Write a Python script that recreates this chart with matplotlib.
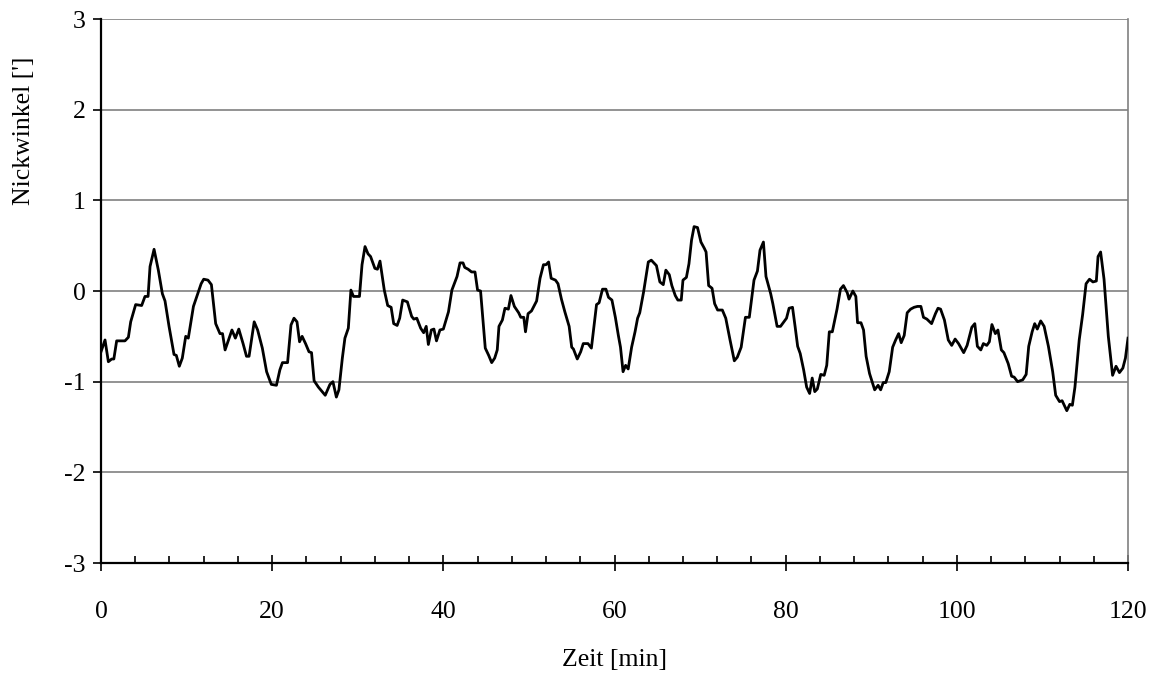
import matplotlib
matplotlib.use("Agg")
import matplotlib.pyplot as plt
from matplotlib.ticker import MultipleLocator

# ---- data ----
zeit = [0.0, 0.47, 0.86, 1.25, 1.5, 1.83, 2.8, 3.2, 3.47, 4.05, 4.75, 5.14, 5.5, 5.73, 6.2,
        6.7, 7.17, 7.48, 7.95, 8.53, 8.8, 9.15, 9.5, 9.9, 10.2, 10.8, 11.7, 12.0, 12.5, 12.9,
        13.4, 13.9, 14.2, 14.5, 15.3, 15.7, 16.1, 16.6, 17.0, 17.3, 17.9, 18.3, 18.85, 19.35,
        19.9, 20.5, 20.9, 21.2, 21.8, 22.2, 22.55, 22.9, 23.2, 23.5, 23.9, 24.3, 24.6, 24.9,
        25.4, 26.2, 26.75, 27.1, 27.5, 27.8, 28.2, 28.5, 28.9, 29.2, 29.5, 30.2, 30.5, 30.85,
        31.2, 31.5, 32.0, 32.3, 32.6, 33.1, 33.5, 33.9, 34.2, 34.6, 34.9, 35.25, 35.8, 36.3,
        36.55, 36.9, 37.35, 37.7, 38.0, 38.25, 38.6, 38.9, 39.2, 39.6, 40.0, 40.6, 41.0, 41.6,
        41.95, 42.3, 42.5, 42.9, 43.3, 43.7, 44.0, 44.35, 44.9, 45.3, 45.65, 46.0, 46.3, 46.5,
        46.9, 47.2, 47.6, 47.9, 48.3, 48.8, 49.05, 49.4, 49.6, 49.9, 50.3, 50.9, 51.3, 51.7,
        52.0, 52.3, 52.6, 53.1, 53.4, 53.8, 54.2, 54.7, 55.0, 55.2, 55.65, 56.05, 56.35, 56.9,
        57.3, 57.9, 58.2, 58.6, 59.0, 59.3, 59.7, 60.1, 60.45, 60.7, 61.0, 61.3, 61.6, 62.0,
        62.4, 62.7, 62.95, 63.4, 63.95, 64.3, 64.9, 65.3, 65.7, 66.0, 66.4, 66.7, 67.1, 67.4,
        67.8, 68.0, 68.4, 68.7, 69.0, 69.3, 69.7, 70.1, 70.5, 70.7, 71.0, 71.4, 71.7, 72.05,
        72.6, 73.0, 73.5, 74.0, 74.35, 74.8, 75.3, 75.75, 76.3, 76.7, 77.0, 77.4, 77.7, 78.25,
        78.5, 79.0, 79.4, 80.1, 80.4, 80.8, 81.1, 81.4, 81.7, 82.1, 82.45, 82.8, 83.1, 83.4,
        83.7, 84.1, 84.5, 84.8, 85.1, 85.45, 86.0, 86.4, 86.75, 87.2, 87.4, 87.85, 88.2, 88.4,
        88.8, 89.1, 89.4, 89.8, 90.1, 90.4, 90.8, 91.1, 91.4, 91.7, 92.1, 92.5, 92.85, 93.2,
        93.5, 93.85, 94.2, 94.6, 95.0, 95.4, 95.8, 96.1, 96.5, 97.05, 97.5, 97.8, 98.1, 98.55,
        99.0, 99.4, 99.8, 100.2, 100.8, 101.2, 101.75, 102.1, 102.4, 102.8, 103.1, 103.5,
        103.8, 104.1, 104.5, 104.8, 105.2, 105.5, 106.0, 106.4, 106.7, 107.1, 107.7, 108.1,
        108.4, 108.8, 109.1, 109.4, 109.8, 110.2, 110.7, 111.2, 111.55, 112.0, 112.3, 112.85,
        113.2, 113.5, 113.8, 114.3, 114.7, 115.1, 115.5, 115.9, 116.3, 116.5, 116.8, 117.2,
        117.7, 118.2, 118.6, 119.0, 119.4, 119.7, 120.0]
nickwinkel = [-0.67, -0.54, -0.78, -0.75, -0.75, -0.55, -0.55, -0.51, -0.34, -0.15, -0.16,
              -0.06, -0.06, 0.27, 0.46, 0.23, -0.03, -0.11, -0.39, -0.70, -0.71, -0.83, -0.74,
              -0.50, -0.52, -0.17, 0.08, 0.13, 0.12, 0.07, -0.36, -0.47, -0.47, -0.65, -0.43,
              -0.52, -0.42, -0.58, -0.72, -0.72, -0.34, -0.43, -0.63, -0.89, -1.03, -1.04,
              -0.87, -0.79, -0.79, -0.375, -0.30, -0.34, -0.56, -0.50, -0.58, -0.67, -0.68,
              -0.99, -1.06, -1.15, -1.03, -1.00, -1.17, -1.09, -0.74, -0.52, -0.41, 0.01,
              -0.06, -0.06, 0.29, 0.49, 0.41, 0.38, 0.25, 0.24, 0.33, 0.01, -0.16, -0.18,
              -0.36, -0.38, -0.30, -0.10, -0.12, -0.28, -0.31, -0.30, -0.41, -0.46, -0.39,
              -0.59, -0.43, -0.42, -0.55, -0.43, -0.42, -0.23, 0.01, 0.16, 0.31, 0.31, 0.26,
              0.24, 0.21, 0.21, 0.01, 0.00, -0.63, -0.71, -0.79, -0.74, -0.65, -0.39, -0.32,
              -0.19, -0.20, -0.05, -0.17, -0.24, -0.29, -0.29, -0.45, -0.25, -0.22, -0.11,
              0.14, 0.29, 0.29, 0.32, 0.14, 0.12, 0.08, -0.09, -0.23, -0.39, -0.62, -0.64,
              -0.75, -0.67, -0.58, -0.58, -0.63, -0.15, -0.13, 0.02, 0.02, -0.07, -0.10, -0.29,
              -0.49, -0.62, -0.89, -0.82, -0.86, -0.62, -0.45, -0.30, -0.24, -0.01, 0.32, 0.34,
              0.28, 0.10, 0.07, 0.23, 0.18, 0.06, -0.05, -0.10, -0.10, 0.12, 0.15, 0.30, 0.56,
              0.71, 0.70, 0.54, 0.47, 0.43, 0.06, 0.03, -0.14, -0.21, -0.21, -0.30, -0.54,
              -0.77, -0.73, -0.62, -0.29, -0.29, 0.12, 0.22, 0.45, 0.54, 0.16, -0.03, -0.14,
              -0.39, -0.39, -0.30, -0.19, -0.18, -0.39, -0.61, -0.69, -0.87, -1.06, -1.13,
              -0.96, -1.11, -1.08, -0.92, -0.93, -0.82, -0.45, -0.45, -0.20, 0.02, 0.06, -0.02,
              -0.09, 0.00, -0.06, -0.35, -0.35, -0.43, -0.72, -0.91, -1.00, -1.09, -1.04,
              -1.09, -1.01, -1.01, -0.89, -0.62, -0.54, -0.47, -0.57, -0.49, -0.24, -0.20,
              -0.18, -0.17, -0.17, -0.29, -0.31, -0.36, -0.25, -0.19, -0.20, -0.32, -0.54,
              -0.60, -0.53, -0.58, -0.68, -0.60, -0.40, -0.36, -0.61, -0.65, -0.58, -0.60,
              -0.56, -0.37, -0.47, -0.43, -0.65, -0.68, -0.80, -0.94, -0.95, -1.00, -0.98,
              -0.92, -0.61, -0.45, -0.36, -0.42, -0.33, -0.39, -0.61, -0.89, -1.15, -1.22,
              -1.21, -1.32, -1.25, -1.26, -1.06, -0.54, -0.26, 0.08, 0.13, 0.10, 0.11, 0.38,
              0.43, 0.13, -0.50, -0.93, -0.83, -0.90, -0.85, -0.74, -0.52]

x_ticks = [0, 20, 40, 60, 80, 100, 120]
y_ticks = [-3, -2, -1, 0, 1, 2, 3]
x_label = "Zeit [min]"
y_label = "Nickwinkel [']"

plt.rcParams['font.family'] = ['Liberation Serif', 'DejaVu Serif']
plt.rcParams['axes.unicode_minus'] = False

fig = plt.figure(figsize=(11.53, 6.74), dpi=100)
ax = fig.add_axes([101/1153, 1-563/674, (1128-101)/1153, (563-19)/674])

for yv in y_ticks:
    if yv != -3:
        ax.axhline(yv, color='#808080', lw=1.2, zorder=1)
ax.plot(zeit, nickwinkel, color='black', lw=2.0, zorder=3)

ax.set_xlim(0, 120)
ax.set_ylim(-3, 3)
ax.set_xticks(x_ticks)
ax.set_yticks(y_ticks)
ax.xaxis.set_minor_locator(MultipleLocator(4))

ax.spines['top'].set_visible(False)
ax.spines['right'].set_color('#808080')
ax.spines['right'].set_linewidth(1.2)
ax.spines['left'].set_color('black')
ax.spines['left'].set_linewidth(1.6)
ax.spines['bottom'].set_color('black')
ax.spines['bottom'].set_linewidth(1.6)

ax.tick_params(axis='x', which='major', direction='inout', length=11, width=1.2,
               labelsize=18.5, pad=22)
ax.tick_params(axis='x', which='minor', direction='in', length=5, width=1.2)
ax.tick_params(axis='y', which='major', direction='out', length=6, width=1.2,
               labelsize=18.5, pad=5)

fig.text(24/1153, 1-131/674, y_label, rotation=90, ha='center', va='center', fontsize=18.5)
fig.text(614.5/1153, 1-660/674, x_label, ha='center', va='center', fontsize=18.5)

fig.savefig('out.png', dpi=100)
